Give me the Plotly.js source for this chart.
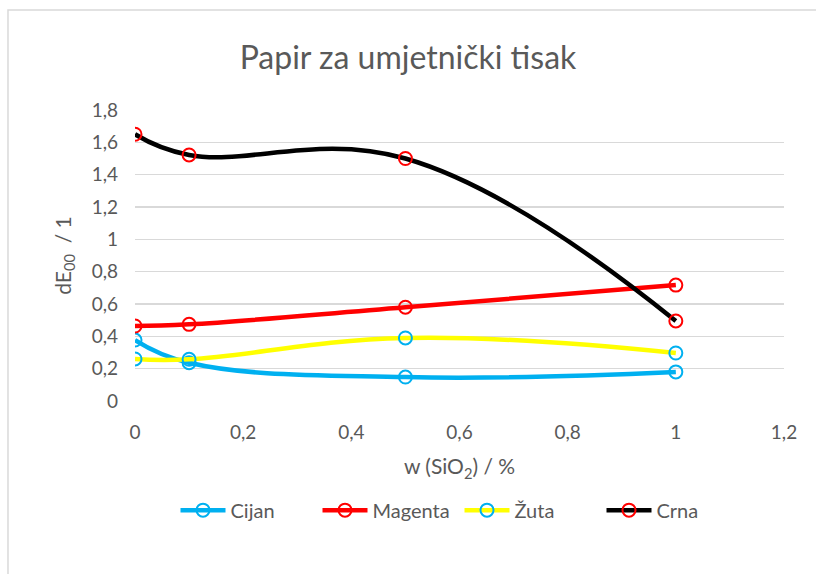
<!DOCTYPE html>
<html><head><meta charset="utf-8">
<script src="https://cdn.plot.ly/plotly-3.0.1.min.js"></script>
<style>html,body{margin:0;padding:0;background:#fff}#c{width:816px;height:574px}</style>
</head><body><div id="c"></div>
<script>
const xVals = [0, 0.1, 0.5, 1];
const cijan = [0.377, 0.237, 0.148, 0.18];
const magenta = [0.464, 0.474, 0.58, 0.717];
const zuta = [0.26, 0.258, 0.39, 0.297];
const crna = [1.65, 1.522, 1.5, 0.495];
const seriesNames = ['Cijan', 'Magenta', 'Žuta', 'Crna'];

const lineColors = ['#00b0f0', '#ff0000', '#ffff00', '#000000'];
const markerColors = ['#00b0f0', '#ff0000', '#00b0f0', '#ff0000'];
const data = [cijan, magenta, zuta, crna];

const traces = data.map((y, i) => ({
  x: xVals, y: y, name: seriesNames[i], type: 'scatter', mode: 'lines+markers',
  line: {color: lineColors[i], width: 4.5, shape: 'spline', smoothing: 1.2},
  marker: {symbol: 'circle-open', size: 13, color: markerColors[i], line: {width: 2, color: markerColors[i]}}
}));

const gray = '#595959';
const layout = {
  width: 816, height: 574,
  margin: {l: 135, r: 32, t: 110, b: 173},
  paper_bgcolor: '#fff', plot_bgcolor: '#fff',
  separators: ', ',
  font: {family: 'Lato, Carlito, sans-serif', color: gray, size: 18},
  title: {text: 'Papir za umjetnički tisak', font: {size: 32, color: gray}, x: 0.5, xanchor: 'center', y: 0.9, yanchor: 'middle'},
  xaxis: {range: [0, 1.2], dtick: 0.2, tick0: 0, showgrid: false, zeroline: false, showline: false,
    ticks: '', tickfont: {size: 19, color: gray}, ticklabelstandoff: 18,
    title: {text: 'w (SiO<sub>2</sub>) / %', font: {size: 21, color: gray}, standoff: 17}},
  yaxis: {range: [0, 1.8], dtick: 0.2, tick0: 0, showgrid: true, gridcolor: '#d9d9d9', gridwidth: 1.3,
    zeroline: false, showline: false, ticks: '', tickfont: {size: 19, color: gray}, ticklabelstandoff: 16,
    title: {text: 'dE<sub>00</sub>  / 1', font: {size: 21, color: gray}, standoff: 14}},
  showlegend: true,
  legend: {orientation: 'h', x: 0.5, xanchor: 'center', y: -0.375, yanchor: 'middle',
    font: {size: 20, color: gray}, itemwidth: 45, traceorder: 'normal',
    entrywidth: 82, entrywidthmode: 'pixels'},
  shapes: [{type: 'rect', xref: 'paper', yref: 'paper', x0: -0.1957, x1: 1.08, y0: -0.66, y1: 1.3436,
    line: {color: '#d9d9d9', width: 1.5}, fillcolor: 'rgba(0,0,0,0)', layer: 'below'}]
};
Plotly.newPlot('c', traces, layout, {displayModeBar: false, staticPlot: true});
</script></body></html>
